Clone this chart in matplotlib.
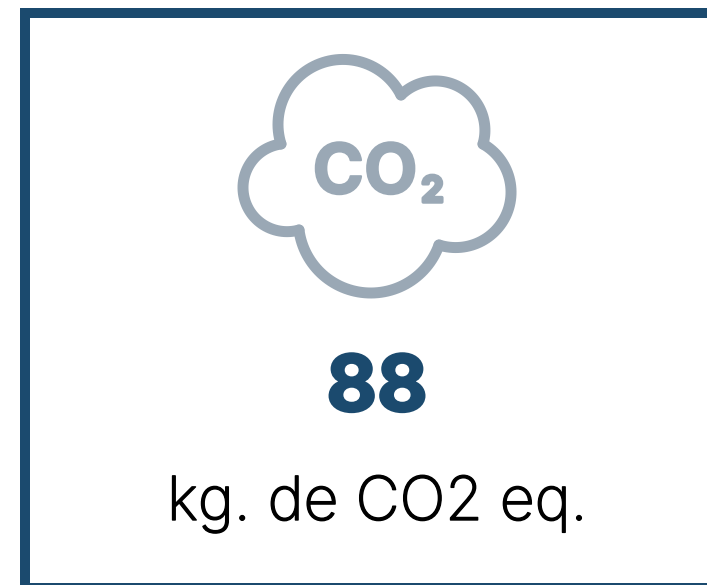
import numpy as np
import matplotlib.pyplot as plt
import matplotlib.patheffects as pe
from matplotlib.patches import Rectangle

# Nội dung của thẻ
gia_tri = "88"
don_vi = "kg. de CO2 eq."
nhan_icon = "CO"
chi_so = "2"

MAU_VIEN = '#1b4a6e'
MAU_ICON = '#9aa8b5'


def cung_tron(p1, p2, p3, n=60):
    """Trả về các điểm trên cung tròn đi qua 3 điểm p1, p2, p3"""
    (ax_, ay), (bx, by), (cx, cy) = p1, p2, p3
    d = 2 * (ax_ * (by - cy) + bx * (cy - ay) + cx * (ay - by))
    ux = ((ax_**2 + ay**2) * (by - cy) + (bx**2 + by**2) * (cy - ay) + (cx**2 + cy**2) * (ay - by)) / d
    uy = ((ax_**2 + ay**2) * (cx - bx) + (bx**2 + by**2) * (ax_ - cx) + (cx**2 + cy**2) * (bx - ax_)) / d
    r = np.hypot(ax_ - ux, ay - uy)
    t1 = np.arctan2(ay - uy, ax_ - ux)
    t2 = np.arctan2(by - uy, bx - ux)
    t3 = np.arctan2(cy - uy, cx - ux)
    # đi đúng chiều qua điểm giữa
    d12 = (t2 - t1) % (2 * np.pi)
    d13 = (t3 - t1) % (2 * np.pi)
    if d12 > d13:
        d13 = d13 - 2 * np.pi
    t = np.linspace(t1, t1 + d13, n)
    return ux + r * np.cos(t), uy + r * np.sin(t)


fig = plt.figure(figsize=(7.07, 5.85), dpi=100)
ax = fig.add_axes([0, 0, 1, 1])
ax.set_xlim(0, 707)
ax.set_ylim(585, 0)
ax.axis('off')

# Khung viền
ax.add_patch(Rectangle((20, 8), 687, 10, color=MAU_VIEN, lw=0))
ax.add_patch(Rectangle((20, 8), 10, 577, color=MAU_VIEN, lw=0))
ax.add_patch(Rectangle((30, 583), 677, 2, color=MAU_VIEN, lw=0))

# Đám mây gồm 5 cung tròn
cac_cung = [
    ((281, 144), (340, 59.5), (401, 95)),
    ((401, 95), (433, 81), (483, 144)),
    ((483, 144), (511, 190), (439, 245)),
    ((439, 245), (370, 293), (299, 230)),
    ((299, 230), (243, 187), (281, 144)),
]
for p1, p2, p3 in cac_cung:
    x, y = cung_tron(p1, p2, p3)
    ax.plot(x, y, color=MAU_ICON, lw=7.9, solid_capstyle='round')

# Chữ trong icon, thêm nét tròn cho giống icon gốc
net_tron = [pe.withStroke(linewidth=1.5, foreground=MAU_ICON, joinstyle='round')]
ax.text(365, 193.5, nhan_icon, family='Inter', fontweight='bold', fontsize=50,
        color=MAU_ICON, ha='center', va='baseline', path_effects=net_tron)
ax.text(432.5, 202, chi_so, family='Inter', fontweight='bold', fontsize=26,
        color=MAU_ICON, ha='center', va='baseline',
        path_effects=[pe.withStroke(linewidth=2.5, foreground=MAU_ICON, joinstyle='round')])

# Giá trị và đơn vị
ax.text(377, 411, gia_tri, family='Inter', fontweight='bold', fontsize=56,
        color=MAU_VIEN, ha='center', va='baseline',
        path_effects=[pe.withStroke(linewidth=2.0, foreground=MAU_VIEN)])
ax.text(377.5, 520, don_vi, family='Inter', fontweight='light', fontsize=43.7,
        color='black', ha='center', va='baseline',
        path_effects=[pe.withStroke(linewidth=1.0, foreground='black')])

fig.savefig('out.png', dpi=100)
